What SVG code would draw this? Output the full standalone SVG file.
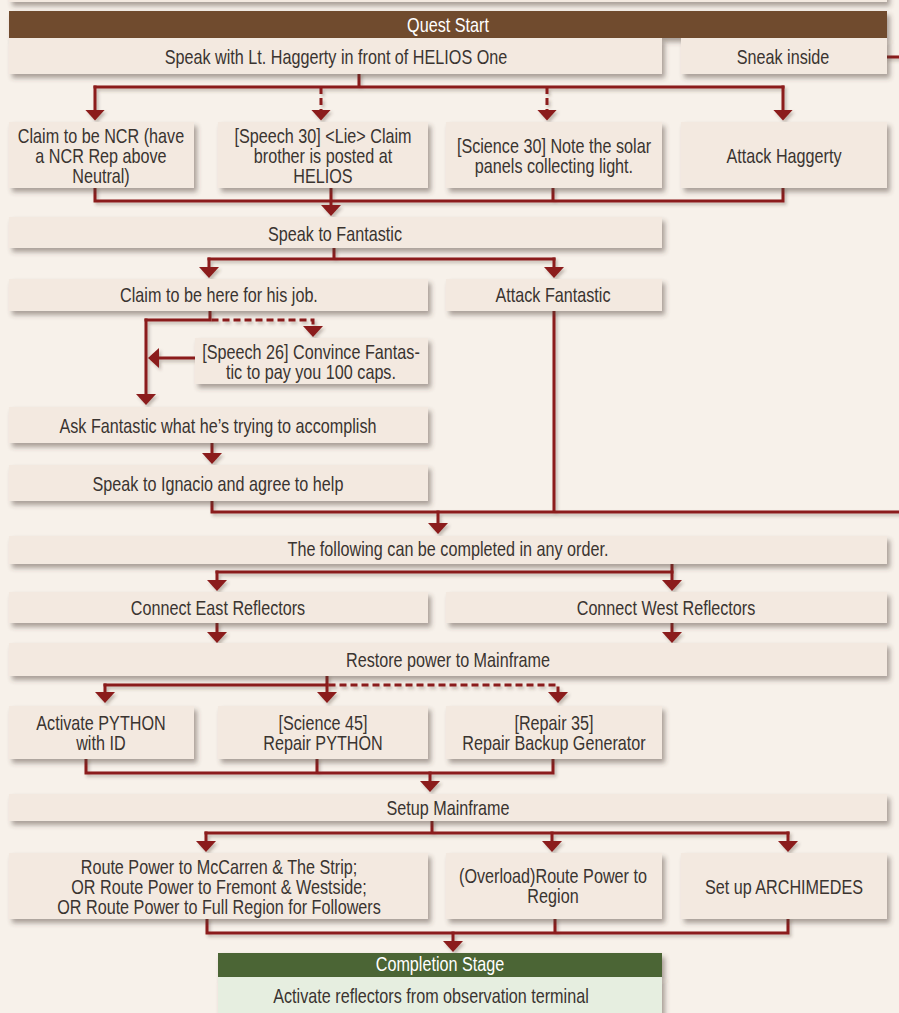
<svg xmlns="http://www.w3.org/2000/svg" width="899" height="1013" viewBox="0 0 899 1013">
<style>
.bg{fill:#f7f1ea}
.box{fill:#f3e9e0;filter:url(#sh)}
.hdr{fill:#704c2e;filter:url(#sh)}
.ghdr{fill:#4b6535;filter:url(#sh)}
.gbox{fill:#e6eee0;filter:url(#sh)}
text{font-family:"Liberation Sans Narrow","Liberation Sans",Arial,sans-serif;font-size:19.5px;fill:#3a3430;text-anchor:middle;transform-box:fill-box;transform-origin:50% 50%;transform:scaleX(0.83)}
text.w{fill:#ffffff}
.ln{fill:none;stroke:#8b1a1a;stroke-width:3;stroke-linecap:square;stroke-linejoin:miter}
.ds{fill:none;stroke:#8b1a1a;stroke-width:3;stroke-dasharray:7 4;stroke-linecap:butt}
.ar{marker-end:url(#ah)}
</style>
<defs>
<filter id="sh" x="-5%" y="-30%" width="112%" height="170%">
<feDropShadow dx="3" dy="4" stdDeviation="2.5" flood-color="#4a3a30" flood-opacity="0.45"/>
</filter>
<filter id="lsh" x="-5%" y="-5%" width="110%" height="110%">
<feDropShadow dx="2" dy="2.5" stdDeviation="1.5" flood-color="#4a3a30" flood-opacity="0.3"/>
</filter>
<marker id="ah" viewBox="0 -10 11 20" markerWidth="11" markerHeight="20" markerUnits="userSpaceOnUse" refX="5" refY="0" orient="auto">
<path d="M0,-10 L11,0 L0,10 z" fill="#8b1a1a"/>
</marker>
</defs>
<rect class="bg" x="0" y="0" width="899" height="1013"/>

<g id="connectors" filter="url(#lsh)">
<path class="ln" d="M359,74 V87 M95,87 H783"/>
<path class="ln ar" d="M95,87 V114.5"/>
<path class="ds ar" d="M321,87 V114.5"/>
<path class="ds ar" d="M547,87 V114.5"/>
<path class="ln ar" d="M783,87 V114.5"/>
<path class="ln" d="M887,57 H899"/>

<path class="ln" d="M95,188 V201 H783 V188 M553,188 V201"/>
<path class="ln ar" d="M331,188 V210"/>

<path class="ln" d="M334,248 V259 M209,259 H554"/>
<path class="ln ar" d="M209,259 V272"/>
<path class="ln ar" d="M554,259 V272"/>

<path class="ln" d="M210,311 V320 H146"/>
<path class="ds ar" d="M211.5,320 H313 V331"/>
<path class="ln ar" d="M146,320 V399"/>
<path class="ln ar" d="M195,358 H154"/>

<path class="ln ar" d="M212,443 V458"/>

<path class="ln" d="M212,501 V512 H899 M554,311 V512"/>
<path class="ln ar" d="M438,512 V528"/>

<path class="ln" d="M672,564 V572 M217,572 H672"/>
<path class="ln ar" d="M217,572 V585"/>
<path class="ln ar" d="M672,572 V585"/>

<path class="ln ar" d="M217,624 V637"/>
<path class="ln ar" d="M672,624 V637"/>

<path class="ln" d="M327,676 V685 H105"/>
<path class="ln ar" d="M105,685 V697"/>
<path class="ln ar" d="M327,685 V697"/>
<path class="ds ar" d="M328.5,685 H558 V697"/>

<path class="ln" d="M86,759 V773 H553 V759 M317,759 V773"/>
<path class="ln ar" d="M430,773 V786"/>

<path class="ln" d="M432,821 V833 M206,833 H788"/>
<path class="ln ar" d="M206,833 V846"/>
<path class="ln ar" d="M552,833 V846"/>
<path class="ln ar" d="M788,833 V846"/>

<path class="ln" d="M207,919 V933 H788 V919 M555,919 V933"/>
<path class="ln ar" d="M453,933 V946"/>
</g>

<g id="prev-stage"><rect class="box" x="9" y="-20" width="878" height="22"/></g>

<g id="quest-start">
<rect class="hdr" x="9" y="11" width="878" height="27"/>
<text class="w" x="448" y="32">Quest Start</text>
</g>
<g id="speak-haggerty">
<rect class="box" x="9" y="38" width="653" height="36"/>
<text x="336" y="64.5">Speak with Lt. Haggerty in front of HELIOS One</text>
</g>
<g id="sneak-inside">
<rect class="box" x="681" y="38" width="206" height="36"/>
<text x="783" y="64.5">Sneak inside</text>
</g>

<g id="claim-ncr">
<rect class="box" x="9" y="122" width="185" height="66"/>
<text x="101" y="143">Claim to be NCR (have</text>
<text x="101" y="163">a NCR Rep above</text>
<text x="101" y="183">Neutral)</text>
</g>
<g id="speech-30">
<rect class="box" x="218" y="122" width="210" height="66"/>
<text x="323" y="143">[Speech 30] &lt;Lie&gt; Claim</text>
<text x="323" y="163">brother is posted at</text>
<text x="323" y="183">HELIOS</text>
</g>
<g id="science-30">
<rect class="box" x="446" y="122" width="216" height="66"/>
<text x="554" y="153">[Science 30] Note the solar</text>
<text x="554" y="173">panels collecting light.</text>
</g>
<g id="attack-haggerty">
<rect class="box" x="681" y="122" width="206" height="66"/>
<text x="784" y="163">Attack Haggerty</text>
</g>

<g id="speak-fantastic">
<rect class="box" x="9" y="217" width="653" height="31"/>
<text x="335" y="241">Speak to Fantastic</text>
</g>

<g id="claim-job">
<rect class="box" x="9" y="279" width="419" height="32"/>
<text x="219" y="302.5">Claim to be here for his job.</text>
</g>
<g id="attack-fantastic">
<rect class="box" x="446" y="279" width="216" height="32"/>
<text x="553" y="302.5">Attack Fantastic</text>
</g>

<g id="speech-26">
<rect class="box" x="195" y="338" width="233" height="46"/>
<text x="311" y="359">[Speech 26] Convince Fantas-</text>
<text x="311" y="379">tic to pay you 100 caps.</text>
</g>

<g id="ask-fantastic">
<rect class="box" x="9" y="407" width="419" height="36"/>
<text x="218" y="433">Ask Fantastic what he’s trying to accomplish</text>
</g>
<g id="speak-ignacio">
<rect class="box" x="9" y="465" width="419" height="36"/>
<text x="218" y="491">Speak to Ignacio and agree to help</text>
</g>

<g id="any-order">
<rect class="box" x="9" y="536" width="878" height="28"/>
<text x="448" y="556.5">The following can be completed in any order.</text>
</g>

<g id="east-reflectors">
<rect class="box" x="9" y="592" width="419" height="31"/>
<text x="218" y="615">Connect East Reflectors</text>
</g>
<g id="west-reflectors">
<rect class="box" x="446" y="592" width="441" height="31"/>
<text x="666" y="615">Connect West Reflectors</text>
</g>

<g id="restore-power">
<rect class="box" x="9" y="643" width="878" height="33"/>
<text x="448" y="667">Restore power to Mainframe</text>
</g>

<g id="activate-python">
<rect class="box" x="9" y="706" width="185" height="53"/>
<text x="101" y="730">Activate PYTHON</text>
<text x="101" y="750">with ID</text>
</g>
<g id="science-45">
<rect class="box" x="218" y="706" width="210" height="53"/>
<text x="323" y="730">[Science 45]</text>
<text x="323" y="750">Repair PYTHON</text>
</g>
<g id="repair-35">
<rect class="box" x="446" y="706" width="216" height="53"/>
<text x="554" y="730">[Repair 35]</text>
<text x="554" y="750">Repair Backup Generator</text>
</g>

<g id="setup-mainframe">
<rect class="box" x="9" y="794" width="878" height="27"/>
<text x="448" y="815">Setup Mainframe</text>
</g>

<g id="route-power">
<rect class="box" x="9" y="853" width="419" height="66"/>
<text x="219" y="874">Route Power to McCarren &amp; The Strip;</text>
<text x="219" y="894">OR Route Power to Fremont &amp; Westside;</text>
<text x="219" y="914">OR Route Power to Full Region for Followers</text>
</g>
<g id="overload">
<rect class="box" x="446" y="853" width="216" height="66"/>
<text x="553" y="883">(Overload)Route Power to</text>
<text x="553" y="903">Region</text>
</g>
<g id="archimedes">
<rect class="box" x="681" y="853" width="206" height="66"/>
<text x="784" y="894">Set up ARCHIMEDES</text>
</g>

<g id="completion-stage">
<rect class="ghdr" x="218" y="953" width="444" height="24"/>
<rect class="gbox" x="218" y="977" width="444" height="50"/>
<text class="w" x="440" y="971.5">Completion Stage</text>
<text x="431" y="1003">Activate reflectors from observation terminal</text>
</g>
</svg>
